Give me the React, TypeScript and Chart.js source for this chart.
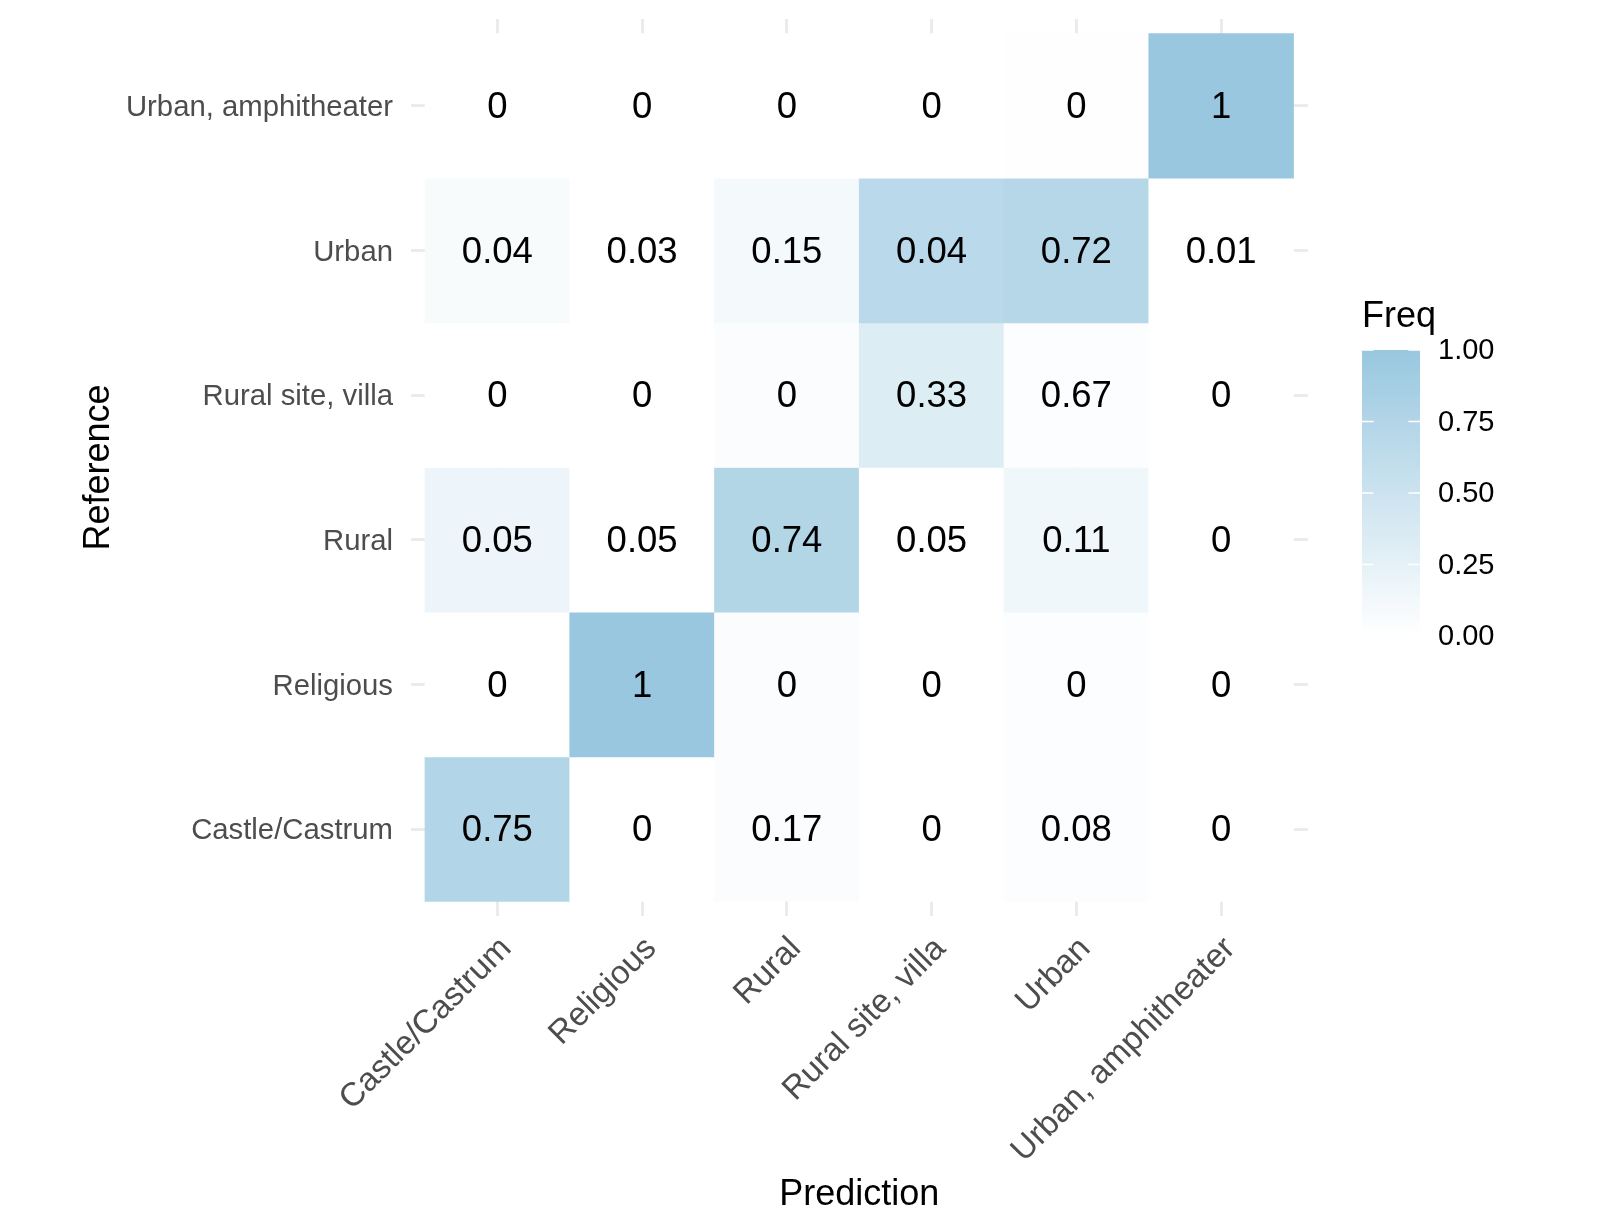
import React, { useEffect, useRef } from "react";
import { Chart, registerables } from "chart.js";

Chart.register(...registerables);

// Category names (prediction on x, reference on y, bottom to top)
const PREDICTION_CATEGORIES = [
  "Castle/Castrum",
  "Religious",
  "Rural",
  "Rural site, villa",
  "Urban",
  "Urban, amphitheater",
];
const REFERENCE_CATEGORIES = [
  "Castle/Castrum",
  "Religious",
  "Rural",
  "Rural site, villa",
  "Urban",
  "Urban, amphitheater",
];

// Printed cell values, one array per reference row (columns = prediction)
const LABEL_CASTLE = [0.75, 0, 0.17, 0, 0.08, 0];
const LABEL_RELIGIOUS = [0, 1, 0, 0, 0, 0];
const LABEL_RURAL = [0.05, 0.05, 0.74, 0.05, 0.11, 0];
const LABEL_RURAL_SITE = [0, 0, 0, 0.33, 0.67, 0];
const LABEL_URBAN = [0.04, 0.03, 0.15, 0.04, 0.72, 0.01];
const LABEL_URBAN_AMPH = [0, 0, 0, 0, 0, 1];

// Tile fill values (Freq)
const FILL_CASTLE = [0.75, 0, 0.05, 0, 0.04, 0];
const FILL_RELIGIOUS = [0, 1, 0.05, 0, 0.03, 0];
const FILL_RURAL = [0.17, 0, 0.74, 0, 0.15, 0];
const FILL_RURAL_SITE = [0, 0, 0.05, 0.33, 0.04, 0];
const FILL_URBAN = [0.08, 0, 0.11, 0.67, 0.72, 0];
const FILL_URBAN_AMPH = [0, 0, 0, 0, 0.01, 1];

const LEGEND_TICKS = [0, 0.25, 0.5, 0.75, 1];
const LEGEND_TITLE = "Freq";
const X_TITLE = "Prediction";
const Y_TITLE = "Reference";

const LABEL_ROWS = [
  LABEL_CASTLE,
  LABEL_RELIGIOUS,
  LABEL_RURAL,
  LABEL_RURAL_SITE,
  LABEL_URBAN,
  LABEL_URBAN_AMPH,
];
const FILL_ROWS = [
  FILL_CASTLE,
  FILL_RELIGIOUS,
  FILL_RURAL,
  FILL_RURAL_SITE,
  FILL_URBAN,
  FILL_URBAN_AMPH,
];

const LOW = [255, 255, 255];
const HIGH = [152, 199, 223];
const FONT = "'Liberation Sans', Arial, Helvetica, sans-serif";

function fillColor(v: number): string {
  const t = Math.max(0, Math.min(1, v));
  const c = LOW.map((l, i) => Math.round(l + (HIGH[i] - l) * t));
  return `rgb(${c[0]},${c[1]},${c[2]})`;
}

const cellLabelPlugin = {
  id: "cellLabels",
  afterDatasetsDraw(chart: any) {
    const ctx = chart.ctx;
    const meta = chart.getDatasetMeta(0);
    const data = chart.data.datasets[0].data as any[];
    ctx.save();
    ctx.font = `36.5px ${FONT}`;
    ctx.fillStyle = "#000000";
    ctx.textAlign = "center";
    ctx.textBaseline = "middle";
    meta.data.forEach((el: any, i: number) => {
      const cx = el.x;
      const cy = (el.y + el.base) / 2;
      ctx.fillText(String(data[i].label), cx, cy + 2);
    });
    ctx.restore();
  },
};

const colorbarPlugin = {
  id: "colorbar",
  afterDraw(chart: any) {
    const ctx = chart.ctx;
    const x0 = 1362;
    const w = 58;
    const yTop = 350;
    const yBot = 636;
    const yOf = (v: number) => yBot - v * (yBot - yTop);
    ctx.save();
    // title
    ctx.font = `36px ${FONT}`;
    ctx.fillStyle = "#000000";
    ctx.textAlign = "left";
    ctx.textBaseline = "alphabetic";
    ctx.fillText(LEGEND_TITLE, x0, 327);
    // gradient bar
    const g = ctx.createLinearGradient(0, yBot, 0, yTop);
    for (let i = 0; i <= 20; i++) {
      const t = i / 20;
      g.addColorStop(t, fillColor(t));
    }
    ctx.fillStyle = g;
    ctx.fillRect(x0, yTop, w, yBot - yTop);
    // ticks
    ctx.strokeStyle = "#ffffff";
    ctx.lineWidth = 1.5;
    const tl = w / 5;
    LEGEND_TICKS.forEach((v) => {
      const y = yOf(v);
      ctx.beginPath();
      ctx.moveTo(x0, y);
      ctx.lineTo(x0 + tl, y);
      ctx.moveTo(x0 + w - tl, y);
      ctx.lineTo(x0 + w, y);
      ctx.stroke();
    });
    // labels
    ctx.font = `29px ${FONT}`;
    ctx.fillStyle = "#000000";
    ctx.textBaseline = "middle";
    LEGEND_TICKS.forEach((v) => {
      ctx.fillText(v.toFixed(2), 1438, yOf(v) + 1);
    });
    ctx.restore();
  },
};

export default function App() {
  const canvasRef = useRef<HTMLCanvasElement | null>(null);

  useEffect(() => {
    document.body.style.margin = "0";
    const canvas = canvasRef.current;
    if (!canvas) return;

    const cells: any[] = [];
    LABEL_ROWS.forEach((row, r) => {
      row.forEach((lab, c) => {
        cells.push({ x: c, y: [r - 0.5, r + 0.5], label: lab, fill: FILL_ROWS[r][c] });
      });
    });

    const idxTicks = PREDICTION_CATEGORIES.map((_, i) => ({ value: i }));
    const idyTicks = REFERENCE_CATEGORIES.map((_, i) => ({ value: i }));

    const chart = new Chart(canvas, {
      type: "bar",
      data: {
        datasets: [
          {
            data: cells,
            backgroundColor: (ctx: any) => fillColor(ctx.raw ? ctx.raw.fill : 0),
            borderWidth: 0,
            barPercentage: 1,
            categoryPercentage: 1,
            grouped: false,
          } as any,
        ],
      },
      options: {
        responsive: false,
        animation: false,
        devicePixelRatio: 1,
        layout: { autoPadding: false, padding: { left: 0, top: 19, right: 289, bottom: 0 } },
        plugins: {
          legend: { display: false },
          tooltip: { enabled: false },
        },
        scales: {
          x: {
            type: "linear",
            offset: false,
            min: -0.6,
            max: 5.6,
            afterBuildTicks: (scale: any) => {
              scale.ticks = idxTicks.map((t) => ({ ...t }));
            },
            afterFit: (scale: any) => {
              scale.height = 314;
              scale.paddingLeft = 0;
              scale.paddingRight = 0;
            },
            grid: { color: "#ebebeb", lineWidth: 3, drawTicks: false, offset: false },
            border: { display: false },
            ticks: {
              autoSkip: false,
              minRotation: 45,
              maxRotation: 45,
              padding: 13.5,
              labelOffset: 9,
              color: "#4d4d4d",
              font: { family: FONT, size: 33 },
              callback: (v: any) => PREDICTION_CATEGORIES[Number(v)] ?? "",
            },
            title: {
              display: true,
              text: X_TITLE,
              color: "#000000",
              font: { family: FONT, size: 36, lineHeight: 1.2 },
              padding: { top: 0, bottom: 13.5 },
            },
          },
          y: {
            type: "linear",
            offset: false,
            min: -0.6,
            max: 5.6,
            afterBuildTicks: (scale: any) => {
              scale.ticks = idyTicks.map((t) => ({ ...t }));
            },
            afterFit: (scale: any) => {
              scale.width = 410.5;
              scale.paddingTop = 0;
              scale.paddingBottom = 0;
            },
            grid: { color: "#ebebeb", lineWidth: 3, drawTicks: false, offset: false },
            border: { display: false },
            ticks: {
              autoSkip: false,
              padding: 17.5,
              labelOffset: 2,
              color: "#4d4d4d",
              font: { family: FONT, size: 29.3 },
              callback: (v: any) => REFERENCE_CATEGORIES[Number(v)] ?? "",
            },
            title: {
              display: true,
              text: Y_TITLE,
              color: "#000000",
              font: { family: FONT, size: 36, lineHeight: 1.2 },
              padding: { top: 77.5, bottom: 0 },
            },
          },
        },
      } as any,
      plugins: [cellLabelPlugin, colorbarPlugin],
    });

    return () => {
      chart.destroy();
    };
  }, []);

  return (
    <div style={{ position: "absolute", left: 0, top: 0, width: 1597, height: 1230, background: "#ffffff" }}>
      <canvas ref={canvasRef} width={1597} height={1230} style={{ display: "block" }} />
    </div>
  );
}
